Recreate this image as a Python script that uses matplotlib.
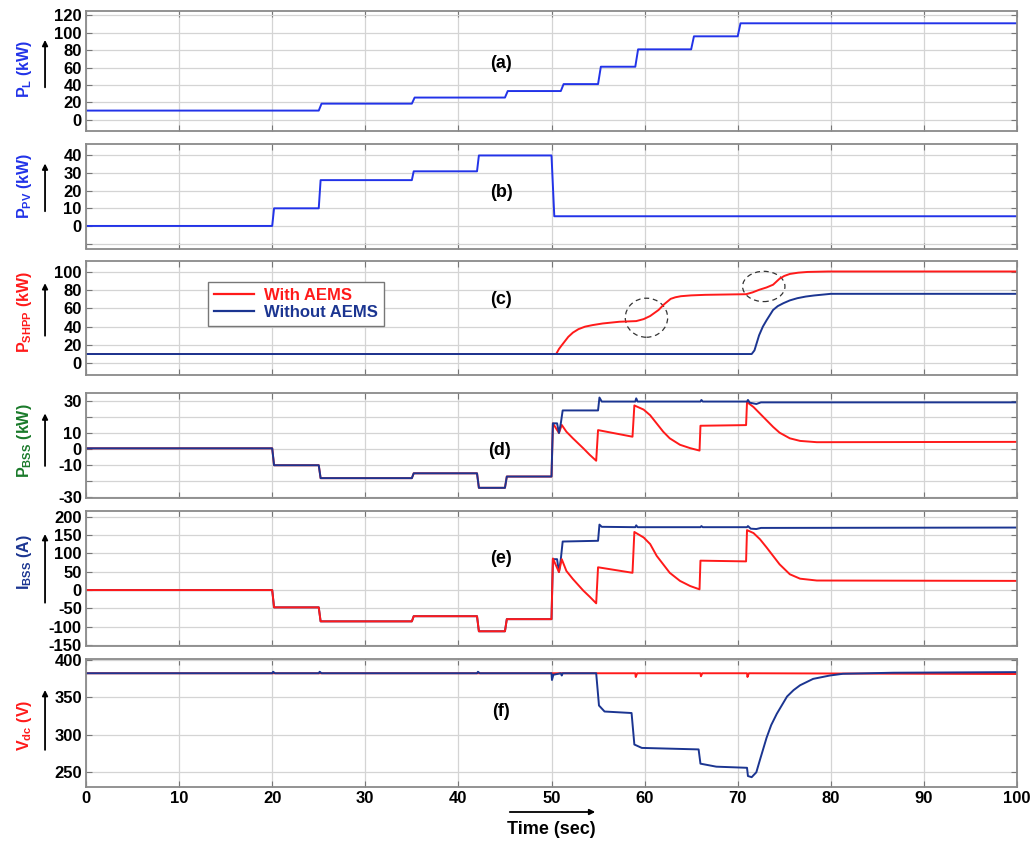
import matplotlib
matplotlib.use("Agg")
import matplotlib.pyplot as plt
from matplotlib.patches import Ellipse, FancyArrowPatch
from matplotlib.lines import Line2D

plt.rcParams['font.family'] = ['Liberation Sans', 'DejaVu Sans']
plt.rcParams['font.weight'] = 'bold'
plt.rcParams['mathtext.fontset'] = 'custom'
plt.rcParams['mathtext.rm'] = 'Liberation Sans:bold'
plt.rcParams['mathtext.bf'] = 'Liberation Sans:bold'
plt.rcParams['mathtext.it'] = 'Liberation Sans:bold'

# ---------------- data ----------------
x_ticks = [0, 10, 20, 30, 40, 50, 60, 70, 80, 90, 100]

# (a) load power
pl_t = [0, 25, 25.3, 35, 35.3, 45, 45.3, 51, 51.3, 55, 55.3, 59, 59.3, 65, 65.3, 70, 70.3, 100]
pl_v = [10.5, 10.5, 18.5, 18.5, 25.5, 25.5, 33, 33, 41, 41, 61, 61, 81, 81, 96, 96, 111, 111]

# (b) PV power
pv_t = [0, 20, 20.2, 25, 25.2, 35, 35.2, 42, 42.2, 50, 50.3, 100]
pv_v = [0, 0, 10, 10, 26, 26, 31, 31, 40, 40, 5.5, 5.5]

# (c) SHPP power
shpp_wo_t = [0, 71.5, 71.8, 72.3, 72.7, 73.1, 73.8, 74.3, 74.9, 75.6, 76.4, 77.3, 78.2, 80.0, 100]
shpp_wo_v = [10, 10, 14, 30.6, 40, 47, 58.3, 62.5, 65.7, 68.8, 71.2, 73, 74.2, 76, 76]
shpp_w_t = [0, 50.5, 50.8, 51.1, 51.8, 52.3, 52.9, 53.6, 54.4, 55.5, 57.3, 59.1, 59.9, 60.6, 61.5,
            62.1, 62.8, 63.3, 63.9, 65.0, 66.5, 70.9, 71.6, 72.3, 73.1, 73.8, 74.5, 75.0, 75.6,
            76.5, 77.5, 79.7, 100]
shpp_w_v = [10, 10, 15.5, 19.6, 28.8, 33.5, 37.3, 40, 41.7, 43.5, 45.4, 46.1, 48.3, 51.7, 58.3,
            64.6, 70.5, 72.2, 73.4, 74.3, 74.9, 75.6, 77.6, 80.4, 83, 86, 92.6, 95.6, 97.8,
            99.2, 100, 100.5, 100.5]

# (d) BSS power
pbss_wo_t = [0, 20, 20.2, 25, 25.2, 35, 35.2, 42, 42.2, 45, 45.2, 50, 50.15, 50.6, 50.8, 51.0, 51.2,
             55, 55.15, 55.4, 59, 59.1, 59.25, 66, 66.1, 66.25, 71, 71.1, 71.3, 72, 72.5, 100]
pbss_wo_v = [0.5, 0.5, -10, -10, -18, -18, -15, -15, -24, -24, -17, -17, 16, 16, 10, 16, 24,
             24, 32, 29.5, 29.5, 31.5, 29.5, 29.5, 30.5, 29.5, 29.5, 30.5, 28.8, 28, 29, 29]
pbss_w_t = [0, 20, 20.2, 25, 25.2, 35, 35.2, 42, 42.2, 45, 45.2, 50, 50.15, 50.8, 51.1, 51.6, 52.3,
            53.4, 54.1, 54.8, 55.0, 58.7, 58.9, 59.9, 60.6, 61.3, 62.0, 62.7, 63.8, 64.9, 65.9,
            66.0, 70.9, 71.0, 71.7, 72.4, 73.1, 73.8, 74.5, 75.6, 76.7, 78.5, 100]
pbss_w_v = [0.5, 0.5, -10, -10, -18, -18, -15, -15, -24, -24, -17, -17, 16, 10, 15, 10.8, 6.7,
            0.6, -3.5, -7.2, 11.8, 7.7, 27.1, 24.5, 21, 15.9, 10.8, 6.7, 2.7, 0.6, -0.9,
            14.5, 14.9, 29.2, 26.1, 22, 17.9, 13.8, 10.2, 6.7, 5.1, 4.3, 4.5]

# (e) BSS current
ibss_wo_t = [0, 20, 20.2, 25, 25.2, 35, 35.2, 42, 42.2, 45, 45.2, 50, 50.15, 50.6, 50.8, 51.0, 51.2,
             55, 55.15, 55.4, 59, 59.1, 59.25, 66, 66.1, 66.25, 71, 71.1, 71.4, 72, 72.5, 100]
ibss_wo_v = [0, 0, -47, -47, -85, -85, -71, -71, -112, -112, -79, -79, 84, 84, 49, 84, 132,
             134, 178, 172, 171, 176, 171, 171, 174, 171, 171, 174, 167, 166, 169, 170]
ibss_w_t = [0, 20, 20.2, 25, 25.2, 35, 35.2, 42, 42.2, 45, 45.2, 50, 50.15, 50.8, 51.1, 51.6, 52.3,
            53.4, 54.1, 54.8, 55.0, 58.7, 58.9, 59.9, 60.6, 61.3, 62.0, 62.7, 63.8, 64.9, 65.9,
            66.0, 70.9, 71.0, 71.7, 72.4, 73.1, 73.8, 74.5, 75.6, 76.7, 78.5, 100]
ibss_w_v = [0, 0, -47, -47, -85, -85, -71, -71, -112, -112, -79, -79, 86, 49, 84, 52, 30,
            -1, -18, -36, 62, 47, 158, 143, 125, 93, 70, 47, 25, 11, 2,
            80, 78, 163, 155, 138, 116, 93, 70, 43, 31, 26, 25]

# (f) DC bus voltage
vdc_wo_t = [0, 20, 20.1, 20.3, 25, 25.1, 25.3, 42, 42.1, 42.3, 50, 50.05, 50.2, 51, 51.1, 51.2,
            54.8, 55.1, 55.7, 58.6, 58.9, 59.7, 65.8, 66.0, 67.7, 71.0, 71.1, 71.5, 72.0, 72.4,
            73.1, 73.6, 74.2, 75.3, 76.0, 76.7, 78.1, 79.9, 81.3, 86.7, 100]
vdc_wo_v = [382, 382, 384, 382, 382, 384, 382, 382, 384, 382, 382, 373, 380, 382, 379, 382,
            382, 339, 331, 329, 287, 282.5, 280.5, 261.5, 257.5, 256, 245, 243.5, 250, 267,
            296, 313, 328, 351, 359.5, 366, 374.5, 379, 381.3, 382.7, 383.5]
vdc_w_t = [0, 59, 59.05, 59.2, 66, 66.05, 66.2, 71, 71.05, 71.2, 100]
vdc_w_v = [382, 382, 377, 382, 382, 378, 382, 382, 377, 382, 381]

# ---------------- style ----------------
RED = '#ff1a1a'
NAVY = '#1b3591'
BLUE = '#2233e8'
GREEN = '#1a7a2a'
GRID = '#d4d4d4'
SPINE = '#8a8a8a'

W, H = 1035, 841
fig = plt.figure(figsize=(W / 100, H / 100), dpi=100)
left_px, right_px = 86, 1017
panels_px = [(10.7, 131), (144, 248.5), (261, 375), (392.7, 498.3), (511, 646), (659, 787.3)]
axes = []
for top, bot in panels_px:
    ax = fig.add_axes([left_px / W, 1 - bot / H, (right_px - left_px) / W, (bot - top) / H])
    axes.append(ax)


def style(ax, yticks, ylabels, ylim):
    ax.set_xlim(0, 100)
    ax.set_ylim(*ylim)
    ax.set_xticks(x_ticks)
    ax.set_yticks(yticks)
    ax.set_yticklabels(ylabels)
    ax.grid(True, color=GRID, lw=0.9)
    ax.set_axisbelow(True)
    for s in ax.spines.values():
        s.set_color(SPINE)
        s.set_linewidth(1.3)
    ax.tick_params(direction='in', top=True, right=True, length=4, color='#777777',
                   labelsize=12, pad=3)
    for lab in ax.get_yticklabels() + ax.get_xticklabels():
        lab.set_fontweight('bold')


def ylab(ax, text, color, yc, a0, a1):
    ax.text(-0.066, yc, text, transform=ax.transAxes, rotation=90, color=color,
            fontsize=11.5, fontweight='bold', ha='center', va='center')
    ax.annotate('', xy=(-0.044, a1), xytext=(-0.044, a0), xycoords='axes fraction',
                arrowprops=dict(arrowstyle='-|>', color='black', lw=1.3, mutation_scale=8))


def letter(ax, s, xf, yf):
    ax.text(xf, yf, s, transform=ax.transAxes, fontsize=13, fontweight='bold',
            ha='center', va='center')


LW = 1.4

# (a)
ax = axes[0]
ax.plot(pl_t, pl_v, color=BLUE, lw=LW)
style(ax, [0, 20, 40, 60, 80, 100, 120], ['0', '20', '40', '60', '80', '100', '120'], (-13, 125.5))
ax.set_xticklabels([])
ylab(ax, r'$\mathbf{P_{L}}$ (kW)', BLUE, 0.52, 0.34, 0.78)
letter(ax, '(a)', 0.446, 0.565)

# (b)
ax = axes[1]
ax.plot(pv_t, pv_v, color=BLUE, lw=LW)
style(ax, [-10, 0, 10, 20, 30, 40], ['', '0', '10', '20', '30', '40'], (-12.8, 46.5))
ax.set_xticklabels([])
ylab(ax, r'$\mathbf{P_{PV}}$ (kW)', BLUE, 0.6, 0.33, 0.84)
letter(ax, '(b)', 0.446, 0.54)

# (c)
ax = axes[2]
ax.plot(shpp_w_t, shpp_w_v, color=RED, lw=LW)
ax.plot(shpp_wo_t, shpp_wo_v, color=NAVY, lw=LW)
style(ax, [0, 20, 40, 60, 80, 100], ['0', '20', '40', '60', '80', '100'], (-13, 112))
ax.set_xticklabels([])
ylab(ax, r'$\mathbf{P_{SHPP}}$ (kW)', RED, 0.55, 0.32, 0.83)
letter(ax, '(c)', 0.446, 0.66)
for (cx, cy, w, h) in [(60.2, 49.8, 4.55, 42.8), (72.8, 84.1, 4.55, 33.2)]:
    ax.add_patch(Ellipse((cx, cy), w, h, fill=False, ls=(0, (4, 3)), lw=0.9, color='#333333'))
handles = [Line2D([], [], color=RED, lw=1.6), Line2D([], [], color=NAVY, lw=1.6)]
leg = ax.legend(handles, ['With AEMS', 'Without AEMS'], loc='upper left',
                bbox_to_anchor=(0.1225, 0.89), frameon=True, fancybox=False,
                edgecolor='#777777', framealpha=1, borderpad=0.35, labelspacing=0.15,
                handlelength=2.4, handletextpad=0.6, prop={'weight': 'bold', 'size': 12})
leg.get_frame().set_linewidth(1.0)
for txt, col in zip(leg.get_texts(), [RED, NAVY]):
    txt.set_color(col)

# (d)
ax = axes[3]
ax.plot(pbss_w_t, pbss_w_v, color=RED, lw=LW)
ax.plot(pbss_wo_t, pbss_wo_v, color=NAVY, lw=LW)
style(ax, [-30, -20, -10, 0, 10, 20, 30], ['-30', '', '-10', '0', '10', '', '30'], (-30.5, 35))
ax.set_xticklabels([])
ylab(ax, r'$\mathbf{P_{BSS}}$ (kW)', GREEN, 0.55, 0.28, 0.83)
letter(ax, '(d)', 0.444, 0.45)

# (e)
ax = axes[4]
ax.plot(ibss_wo_t, ibss_wo_v, color=NAVY, lw=LW)
ax.plot(ibss_w_t, ibss_w_v, color=RED, lw=LW)
style(ax, [-150, -100, -50, 0, 50, 100, 150, 200],
      ['-150', '-100', '-50', '0', '50', '100', '150', '200'], (-152, 215))
ax.set_xticklabels([])
ylab(ax, r'$\mathbf{I_{BSS}}$ (A)', NAVY, 0.62, 0.3, 0.85)
letter(ax, '(e)', 0.446, 0.65)

# (f)
ax = axes[5]
ax.plot(vdc_w_t, vdc_w_v, color=RED, lw=LW)
ax.plot(vdc_wo_t, vdc_wo_v, color=NAVY, lw=LW)
style(ax, [250, 300, 350, 400], ['250', '300', '350', '400'], (230, 401))
ax.set_xticklabels([str(v) for v in x_ticks])
for lab in ax.get_xticklabels():
    lab.set_fontweight('bold')
ylab(ax, r'$\mathbf{V_{dc}}$ (V)', RED, 0.48, 0.27, 0.78)
letter(ax, '(f)', 0.446, 0.59)

# time arrow and label
fig.add_artist(FancyArrowPatch((507 / W, 1 - 812 / H), (598 / W, 1 - 812 / H),
                               transform=fig.transFigure, arrowstyle='-|>',
                               mutation_scale=8, color='black', lw=1.3))
fig.text(551 / W, 1 - 830 / H, 'Time (sec)', ha='center', va='center', fontsize=13,
         fontweight='bold')

fig.savefig('out.png', dpi=100, facecolor='white')
